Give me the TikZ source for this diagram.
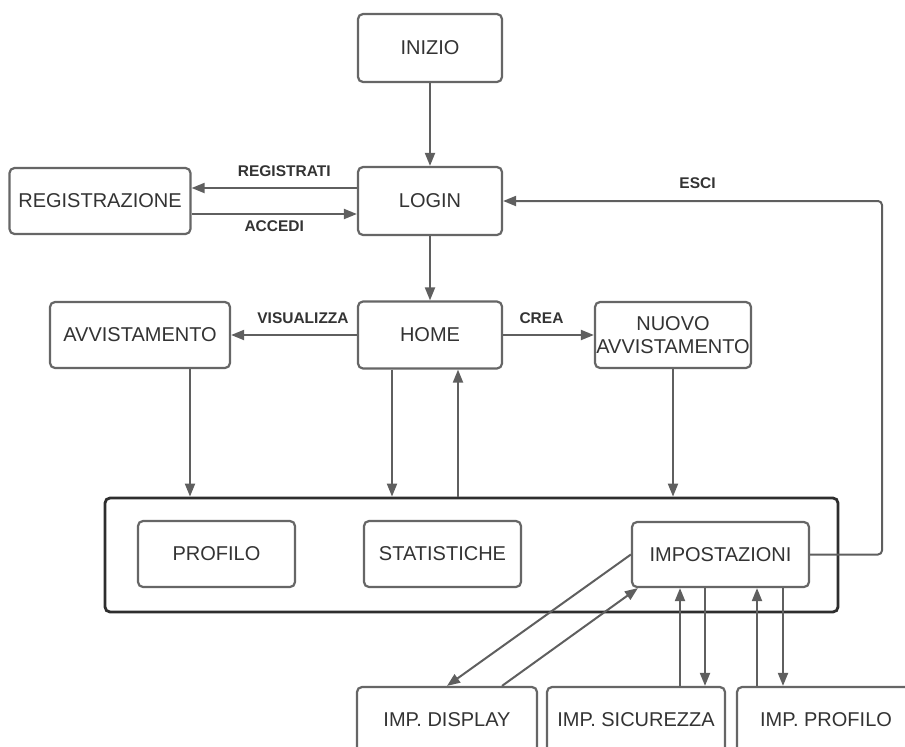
\documentclass[tikz,border=0pt]{standalone}
\usepackage{fontspec}
\setmainfont{Liberation Sans}
\usetikzlibrary{arrows.meta}
\definecolor{linea}{HTML}{5F5F5F}
\definecolor{bordo}{HTML}{666666}
\definecolor{cornice}{HTML}{2E2E2E}
\definecolor{testo}{HTML}{333333}

\begin{document}
\begin{tikzpicture}
	 [x=1pt,y=-1pt,
	  every node/.style={draw=bordo,line width=2.2pt,rounded corners=5pt,fill=white,text=testo,
	    inner sep=0pt,align=center,font=\fontsize{20}{23}\selectfont},
	  etichetta/.style={draw=none,fill=none,font=\bfseries\fontsize{15.5}{18}\selectfont},
	  freccia/.style={draw=linea,line width=2pt,-{Triangle[length=13pt,width=10pt]}}]

	\useasboundingbox (0,0) rectangle (905,747);

	  \node (inizio) [minimum width=144,minimum height=68] at (430,48) {INIZIO};
	  \node (login) [minimum width=144,minimum height=68] at (430,201) {LOGIN};
	  \node (registrazione) [minimum width=181,minimum height=66] at (100,201) {REGISTRAZIONE};
	  \node (home) [minimum width=144,minimum height=67] at (430,335) {HOME};
	  \node (avvistamento) [minimum width=180,minimum height=66] at (140,335) {AVVISTAMENTO};
	  \node (nuovo) [minimum width=156,minimum height=66] at (673,335) {NUOVO\\AVVISTAMENTO};

	  \node (pannello) [draw=cornice,line width=2.8pt,minimum width=733,minimum height=114] at (471.5,555) {};
	  \node (profilo) [minimum width=157,minimum height=66] at (216.5,554) {PROFILO};
	  \node (statistiche) [minimum width=157,minimum height=66] at (442.5,554) {STATISTICHE};
	  \node (impostazioni) [minimum width=177,minimum height=65] at (720.5,554.5) {IMPOSTAZIONI};

	  \node (display) [minimum width=180,minimum height=66] at (447,720) {IMP. DISPLAY};
	  \node (sicurezza) [minimum width=178,minimum height=66] at (636,720) {IMP. SICUREZZA};
	  \node (impprofilo) [minimum width=178,minimum height=66] at (826,720) {IMP. PROFILO};

	  \coordinate (svolta) at (882,201);

	\foreach \from/\to in {inizio/login,login/home}
    \draw[freccia] (\from.south) -- (\to.north);

	\draw[freccia] ([yshift=13pt]login.west) -- ([yshift=13pt]registrazione.east)
	    node[etichetta,midway,above=10pt,xshift=10pt] {REGISTRATI};
	\draw[freccia] ([yshift=-13pt]registrazione.east) -- ([yshift=-13pt]login.west)
	    node[etichetta,midway,below=6pt] {ACCEDI};
	\draw[freccia] (home.west) -- (avvistamento.east)
	    node[etichetta,midway,above=10pt,xshift=9pt] {VISUALIZZA};
	\draw[freccia] (home.east) -- (nuovo.west)
	    node[etichetta,midway,above=10pt,xshift=-7pt] {CREA};

	\draw[freccia] ([xshift=50pt]avvistamento.south) -- ([xshift=50pt]avvistamento.south |- pannello.north);
	\draw[freccia] ([xshift=-38pt]home.south) -- ([xshift=-38pt]home.south |- pannello.north);
	\draw[freccia] ([xshift=28pt]home.south |- pannello.north) -- ([xshift=28pt]home.south);
	\draw[freccia] (nuovo.south) -- (nuovo.south |- pannello.north);

	\draw[freccia,rounded corners=4pt] (impostazioni.east) -| (svolta) -- (login.east)
	    node[etichetta,midway,above=11pt,xshift=5pt] {ESCI};

	\draw[freccia] (impostazioni.west) -- (display.north);
	\draw[freccia] ([xshift=55pt]display.north) -- ([xshift=7pt]impostazioni.south west);
	\draw[freccia] ([xshift=44pt]sicurezza.north) -- ([xshift=44pt]sicurezza.north |- impostazioni.south);
	\draw[freccia] ([xshift=-15.5pt]impostazioni.south) -- ([xshift=-15.5pt]impostazioni.south |- sicurezza.north);
	\draw[freccia] ([xshift=-69pt]impprofilo.north) -- ([xshift=-69pt]impprofilo.north |- impostazioni.south);
	\draw[freccia] ([xshift=62.5pt]impostazioni.south) -- ([xshift=62.5pt]impostazioni.south |- impprofilo.north);

\end{tikzpicture}
\end{document}
